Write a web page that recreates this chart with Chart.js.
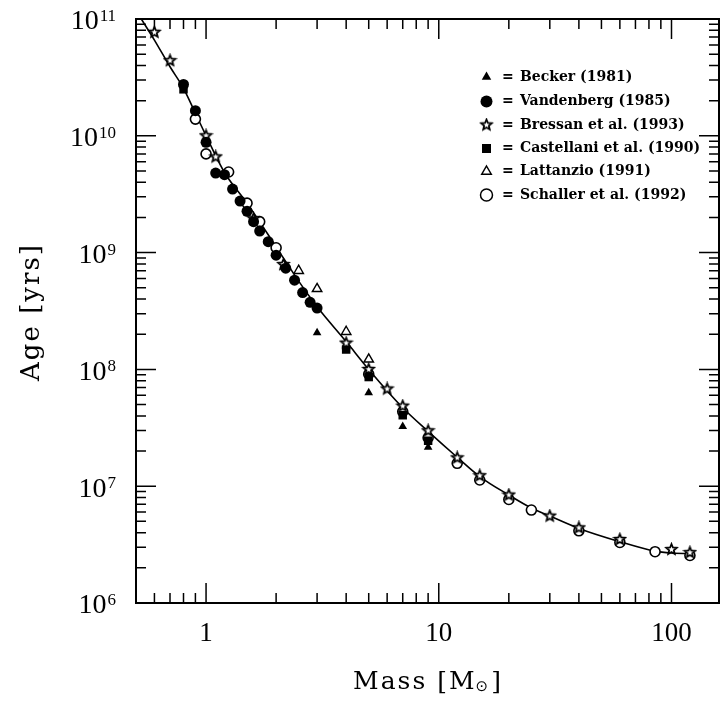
<!DOCTYPE html>
<html>
<head>
<meta charset="utf-8">
<script src="https://cdn.jsdelivr.net/npm/chart.js@4/dist/chart.umd.min.js"></script>
<style>
  html, body { margin: 0; padding: 0; background: #fff; }
  #wrap { width: 727px; height: 701px; }
</style>
</head>
<body>
<div id="wrap"><canvas id="c" width="727" height="701"></canvas></div>
<script>
// values (mass in solar masses, age in years)
var curveMass = [0.527, 0.6, 0.7, 0.8, 0.9, 1.0, 1.2, 1.5, 2, 2.5, 3, 4, 5, 7, 9, 12, 15, 20, 25, 30, 40, 60, 85, 100, 120];
var curveAge = [1.0e11, 6.6e10, 3.9e10, 2.55e10, 1.56e10, 1.0e10, 4.85e9, 2.65e9, 1.12e9, 5.7e8, 3.44e8, 1.73e8, 1.0e8, 4.7e7, 2.95e7, 1.77e7, 1.21e7, 8.4e6, 6.5e6, 5.55e6, 4.35e6, 3.35e6, 2.78e6, 2.68e6, 2.65e6];

var beckerMass = [3, 5, 7, 9];
var beckerAge = [2.06e8, 6.3e7, 3.25e7, 2.15e7];

var vandenbergMass = [0.8, 0.9, 1.0, 1.1, 1.2, 1.3, 1.4, 1.5, 1.6, 1.7, 1.85, 2.0, 2.2, 2.4, 2.6, 2.8, 3.0];
var vandenbergAge = [2.75e10, 1.64e10, 8.8e9, 4.8e9, 4.65e9, 3.5e9, 2.76e9, 2.26e9, 1.84e9, 1.53e9, 1.24e9, 9.5e8, 7.35e8, 5.8e8, 4.55e8, 3.75e8, 3.35e8];

var bressanMass = [0.6, 0.7, 1.0, 1.1, 1.6, 2.15, 4, 5, 6, 7, 9, 12, 15, 20, 30, 40, 60, 100, 120];
var bressanAge = [7.7e10, 4.4e10, 1.0e10, 6.6e9, 1.95e9, 7.9e8, 1.68e8, 1.0e8, 6.8e7, 4.85e7, 2.98e7, 1.75e7, 1.23e7, 8.4e6, 5.55e6, 4.4e6, 3.5e6, 2.87e6, 2.7e6];

var castellaniMass = [0.8, 4, 5, 7, 9];
var castellaniAge = [2.5e10, 1.48e8, 8.6e7, 4.05e7, 2.45e7];

var lattanzioMass = [2.5, 3, 4, 5];
var lattanzioAge = [7.0e8, 4.9e8, 2.1e8, 1.22e8];

var schallerMass = [0.9, 1.0, 1.25, 1.5, 1.7, 2.0, 5, 7, 9, 12, 15, 20, 25, 40, 60, 85, 120];
var schallerAge = [1.39e10, 7.0e9, 4.9e9, 2.65e9, 1.84e9, 1.1e9, 9.1e7, 4.35e7, 2.6e7, 1.57e7, 1.13e7, 7.7e6, 6.25e6, 4.15e6, 3.3e6, 2.75e6, 2.55e6];

var legendNames = ["Becker (1981)", "Vandenberg (1985)", "Bressan et al. (1993)", "Castellani et al. (1990)", "Lattanzio (1991)", "Schaller et al. (1992)"];

var xTickValues = [1, 10, 100];
var xTickLabels = ["1", "10", "100"];
var yTickExponents = [6, 7, 8, 9, 10, 11];

function pts(xs, ys) {
  return xs.map(function (v, i) { return { x: v, y: ys[i] }; });
}

// five point star as an image, chart.js has no such point style
function makeStar(r) {
  var s = Math.ceil(2 * r + 4);
  var c = document.createElement("canvas");
  c.width = s; c.height = s;
  var g = c.getContext("2d");
  g.translate(s / 2, s / 2);
  g.beginPath();
  for (var i = 0; i < 10; i++) {
    var rr = (i % 2) ? r * 0.45 : r;
    var a = -Math.PI / 2 + i * Math.PI / 5;
    g.lineTo(rr * Math.cos(a), rr * Math.sin(a));
  }
  g.closePath();
  g.fillStyle = "#fff"; g.fill();
  g.lineWidth = 1.8; g.strokeStyle = "#000"; g.stroke();
  return c;
}
var starImg = makeStar(5.5);

function drawMarker(ctx, kind, x, y) {
  ctx.save();
  ctx.strokeStyle = "#000"; ctx.fillStyle = "#000"; ctx.lineWidth = 1.5;
  var r;
  if (kind === "tri" || kind === "otri") {
    r = 5.5;
    ctx.beginPath();
    ctx.moveTo(x, y - r);
    ctx.lineTo(x + r * 0.866, y + r * 0.5);
    ctx.lineTo(x - r * 0.866, y + r * 0.5);
    ctx.closePath();
    if (kind === "tri") ctx.fill(); else { ctx.fillStyle = "#fff"; ctx.fill(); ctx.stroke(); }
  } else if (kind === "dot" || kind === "ring") {
    ctx.beginPath();
    ctx.arc(x, y, 6, 0, Math.PI * 2);
    if (kind === "dot") ctx.fill(); else { ctx.fillStyle = "#fff"; ctx.fill(); ctx.stroke(); }
  } else if (kind === "sq") {
    ctx.fillRect(x - 4.5, y - 4.5, 9, 9);
  } else if (kind === "star") {
    ctx.drawImage(starImg, x - starImg.width / 2, y - starImg.height / 2);
  }
  ctx.restore();
}

var frame = {
  id: "frame",
  afterDatasetsDraw: function (chart) {
    var ctx = chart.ctx, a = chart.chartArea, xs = chart.scales.x, ys = chart.scales.y;
    ctx.save();
    ctx.strokeStyle = "#000";
    ctx.lineWidth = 1.5;
    ctx.beginPath();
    // x ticks, inward on bottom and top
    for (var d = -1; d <= 2; d++) {
      for (var k = 1; k <= 9; k++) {
        var v = k * Math.pow(10, d);
        if (v < xs.min || v > xs.max) continue;
        var px = xs.getPixelForValue(v);
        var len = (k === 1) ? 20 : 10;
        ctx.moveTo(px, a.bottom); ctx.lineTo(px, a.bottom - len);
        ctx.moveTo(px, a.top); ctx.lineTo(px, a.top + len);
      }
    }
    // y ticks, inward on left and right
    for (var e = 6; e <= 10; e++) {
      for (var m = 1; m <= 9; m++) {
        var vy = m * Math.pow(10, e);
        var py = ys.getPixelForValue(vy);
        var ly = (m === 1) ? 20 : 10;
        ctx.moveTo(a.left, py); ctx.lineTo(a.left + ly, py);
        ctx.moveTo(a.right, py); ctx.lineTo(a.right - ly, py);
      }
    }
    ctx.stroke();
    ctx.lineWidth = 2;
    ctx.strokeRect(a.left, a.top, a.right - a.left, a.bottom - a.top);

    // tick labels
    ctx.fillStyle = "#000";
    ctx.font = '27px "Liberation Serif"';
    ctx.textAlign = "center";
    ctx.textBaseline = "middle";
    xTickValues.forEach(function (v, i) {
      ctx.fillText(xTickLabels[i], xs.getPixelForValue(v), a.bottom + 31);
    });
    yTickExponents.forEach(function (ex) {
      var py = ys.getPixelForValue(Math.pow(10, ex));
      ctx.font = '17px "Liberation Serif"';
      var we = ctx.measureText(String(ex)).width;
      ctx.font = '28px "Liberation Serif"';
      var wb = ctx.measureText("10").width;
      var right = 116;
      ctx.textAlign = "left";
      ctx.textBaseline = "middle";
      ctx.fillText("10", right - we - wb - 1, py + 3);
      ctx.font = '17px "Liberation Serif"';
      ctx.textBaseline = "top";
      ctx.fillText(String(ex), right - we, py - 11);
    });

    // axis titles
    ctx.save();
    ctx.translate(32, 312);
    ctx.rotate(-Math.PI / 2);
    ctx.font = '26px "DejaVu Serif"';
    ctx.letterSpacing = "2px";
    ctx.textAlign = "center";
    ctx.textBaseline = "middle";
    ctx.fillText("Age [yrs]", 0, 0);
    ctx.restore();

    ctx.save();
    ctx.font = '25px "DejaVu Serif"';
    ctx.letterSpacing = "2px";
    ctx.textAlign = "left";
    ctx.textBaseline = "alphabetic";
    var t1 = "Mass [M", t3 = "]";
    var w1 = ctx.measureText(t1).width, w3 = ctx.measureText(t3).width;
    ctx.font = '15px "DejaVu Sans"';
    var w2 = ctx.measureText("\u2299").width;
    var x0 = 428 - (w1 + w2 + w3) / 2;
    ctx.font = '25px "DejaVu Serif"';
    ctx.fillText(t1, x0, 689);
    ctx.fillText(t3, x0 + w1 + w2, 689);
    ctx.font = '15px "DejaVu Sans"';
    ctx.letterSpacing = "0px";
    ctx.textBaseline = "middle";
    ctx.fillText("\u2299", x0 + w1 - 1, 687);
    ctx.restore();

    // legend inside the plot
    var kinds = ["tri", "dot", "star", "sq", "otri", "ring"];
    var rows = [77, 101.5, 125, 148.5, 171.5, 195];
    ctx.font = 'bold 14px "DejaVu Serif"';
    ctx.textAlign = "left";
    ctx.textBaseline = "middle";
    legendNames.forEach(function (n, i) {
      drawMarker(ctx, kinds[i], 486.5, rows[i]);
      ctx.fillStyle = "#000";
      ctx.fillText("=", 502, rows[i]);
      ctx.fillText(n, 520, rows[i]);
    });
    ctx.restore();
  }
};

var ctx = document.getElementById("c");
new Chart(ctx, {
  type: "scatter",
  data: {
    datasets: [
      {
        label: legendNames[0],
        data: pts(beckerMass, beckerAge),
        pointStyle: "triangle", pointRadius: 5, borderWidth: 0,
        backgroundColor: "#000", borderColor: "#000"
      },
      {
        label: legendNames[1],
        data: pts(vandenbergMass, vandenbergAge),
        pointStyle: "circle", pointRadius: 5.5, borderWidth: 0,
        backgroundColor: "#000", borderColor: "#000"
      },
      {
        label: legendNames[2],
        data: pts(bressanMass, bressanAge),
        pointStyle: starImg, pointRadius: 5.5
      },
      {
        label: legendNames[3],
        data: pts(castellaniMass, castellaniAge),
        pointStyle: "rect", pointRadius: 6, borderWidth: 0,
        backgroundColor: "#000", borderColor: "#000"
      },
      {
        label: legendNames[4],
        data: pts(lattanzioMass, lattanzioAge),
        pointStyle: "triangle", pointRadius: 5.5, borderWidth: 1.4,
        backgroundColor: "#fff", borderColor: "#000"
      },
      {
        label: legendNames[5],
        data: pts(schallerMass, schallerAge),
        pointStyle: "circle", pointRadius: 5, borderWidth: 1.6,
        backgroundColor: "#fff", borderColor: "#000"
      },
      {
        label: "fit",
        type: "line",
        data: pts(curveMass, curveAge),
        showLine: true,
        pointRadius: 0,
        borderColor: "#000",
        borderWidth: 1.6,
        cubicInterpolationMode: "monotone",
        fill: false
      }
    ]
  },
  options: {
    responsive: false,
    animation: false,
    devicePixelRatio: 1,
    layout: { padding: { left: 136, right: 8, top: 19, bottom: 98 } },
    scales: {
      x: { type: "logarithmic", min: 0.5, max: 160, display: false },
      y: { type: "logarithmic", min: 1e6, max: 1e11, display: false }
    },
    plugins: {
      legend: { display: false },
      tooltip: { enabled: false }
    }
  },
  plugins: [frame]
});
</script>
</body>
</html>
